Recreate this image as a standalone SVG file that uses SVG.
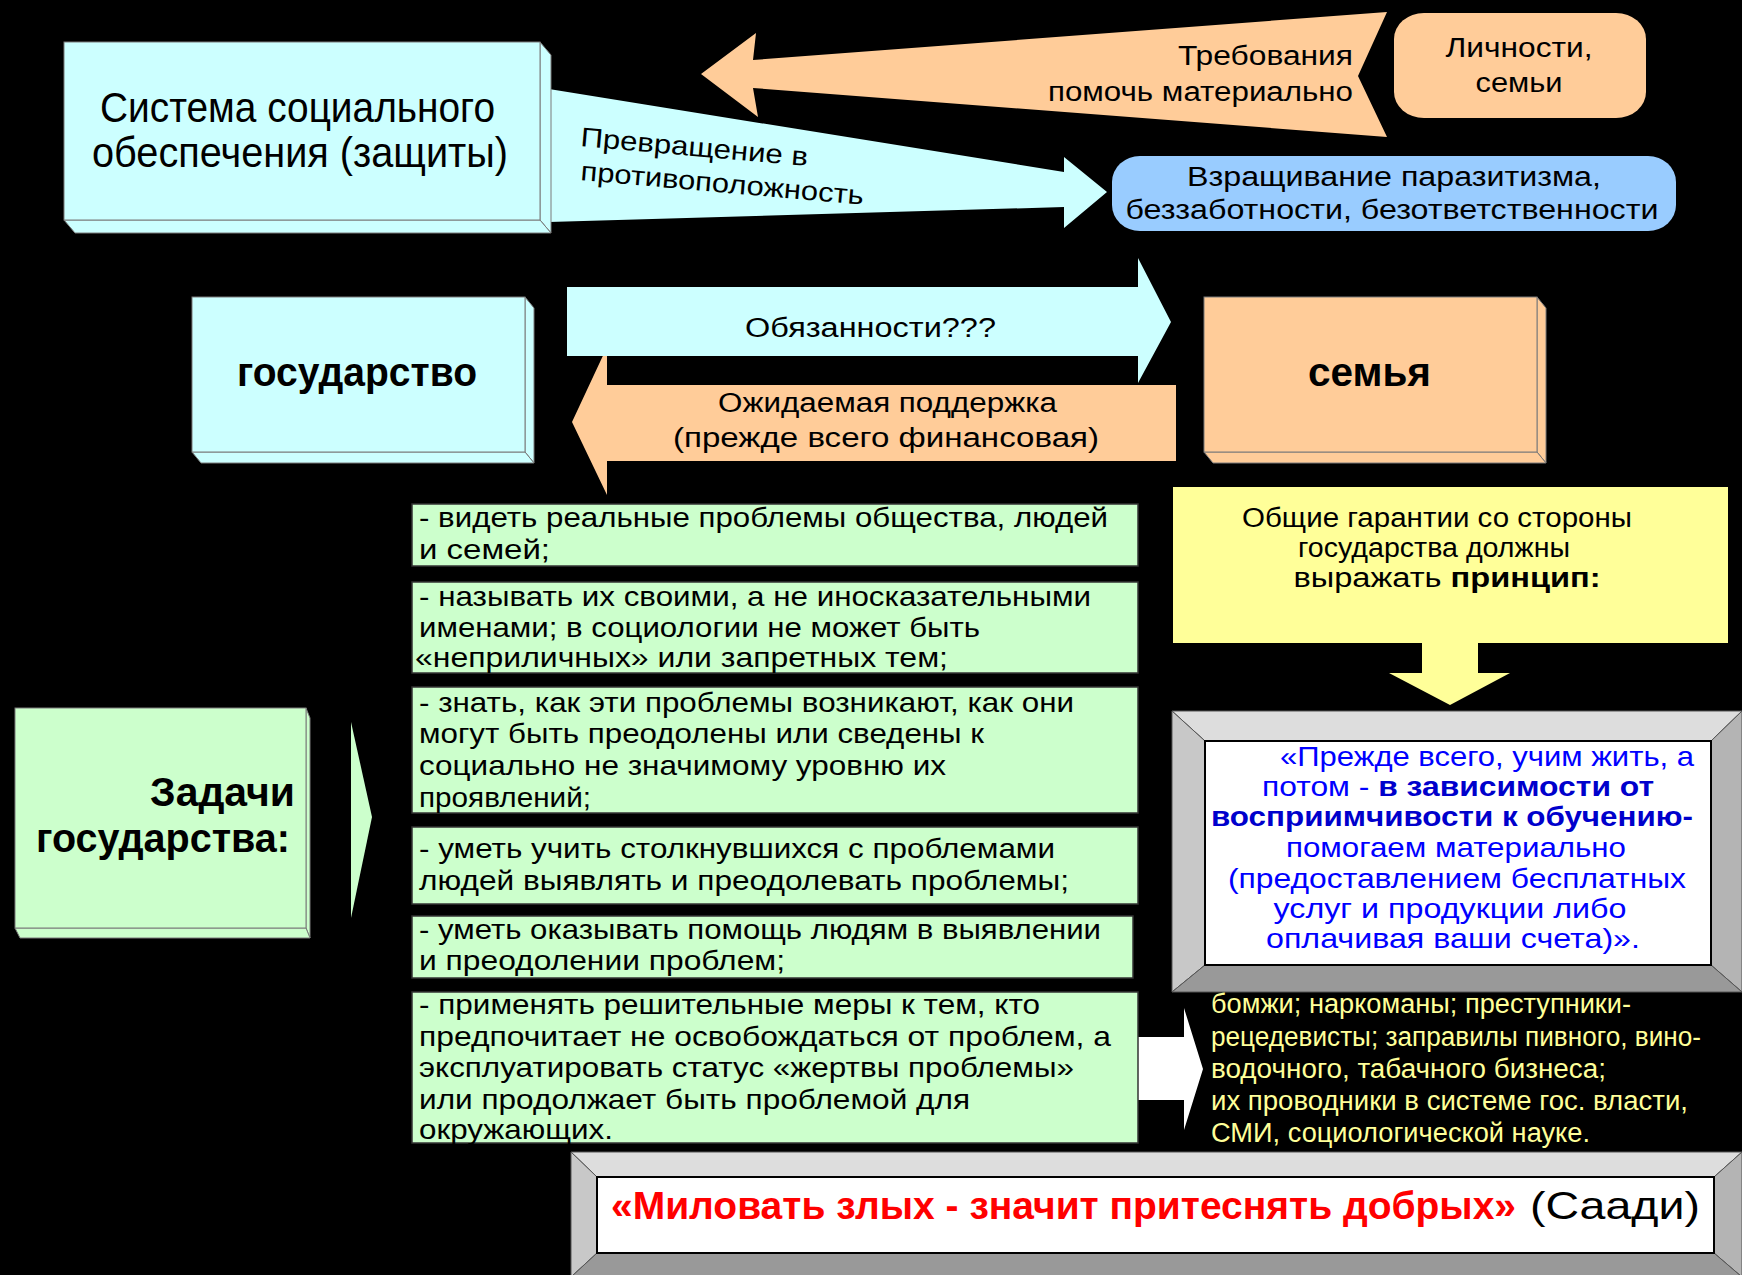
<svg xmlns="http://www.w3.org/2000/svg" width="1742" height="1275" viewBox="0 0 1742 1275">
<style>
text{font-family:"Liberation Sans",Arial,sans-serif;fill:#000}
.f{stroke:#7a7a7a;stroke-width:1}
.cy{fill:#CCFFFF}
.or{fill:#FFCC99}
.gr{fill:#CCFFCC}
.t26{font-size:27px}
.t25{font-size:27px}
.b38{font-size:40px;font-weight:bold}
.g{font-size:28px}
.y{font-size:27px;fill:#FFFF99}
.bl{font-size:28px;fill:#0000FF}
.blb{font-weight:bold;fill:#0000CC}
.c{text-anchor:middle}
.e{text-anchor:end}
</style>
<rect width="1742" height="1275" fill="#000"/>

<g id="connectors">
  <polygon class="or" points="701,74 756,33 753,60 1387,12 1358,76 1387,137 753,88 758,117"/>
  <polygon class="cy" points="549,89 1064,172 1064,157 1107,192 1064,228 1064,207 549,222"/>
  <polygon class="or" points="572,422 607,347 607,385 1176,385 1176,461 607,461 607,495"/>
  <polygon class="cy" points="567,287 1138,287 1138,258 1171,322 1138,383 1138,356 567,356"/>
  <polygon class="gr" points="351,722 372,817 351,918"/>
  <polygon fill="#FFFF99" points="1422,642 1478,642 1478,673 1510,673 1450,705 1389,673 1422,673"/>
  <polygon fill="#FFFFFF" points="1137,1037 1184,1037 1184,1008 1203,1069 1184,1130 1184,1100 1137,1100"/>
  <text class="t25" x="580" y="146" transform="rotate(5 580 146)" textLength="228" lengthAdjust="spacingAndGlyphs">Превращение в</text>
  <text class="t25" x="580" y="180" transform="rotate(5 580 180)" textLength="284" lengthAdjust="spacingAndGlyphs">противоположность</text>
  <text class="t26 e" x="1353" y="65" textLength="175" lengthAdjust="spacingAndGlyphs">Требования</text>
  <text class="t26 e" x="1353" y="101" textLength="305" lengthAdjust="spacingAndGlyphs">помочь материально</text>
  <text class="t26" x="745" y="337" textLength="251" lengthAdjust="spacingAndGlyphs">Обязанности???</text>
  <text class="t26" x="718" y="412" textLength="339" lengthAdjust="spacingAndGlyphs">Ожидаемая поддержка</text>
  <text class="t26" x="673" y="447" textLength="426" lengthAdjust="spacingAndGlyphs">(прежде всего финансовая)</text>
</g>

<g id="sistema">
  <polygon class="cy f" points="540,42 551,55 551,233 540,220"/>
  <polygon class="cy f" points="64,220 540,220 551,233 75,233"/>
  <rect class="cy f" x="64" y="42" width="476" height="178"/>
  <text x="100" y="122" font-size="42" textLength="395" lengthAdjust="spacingAndGlyphs">Система социального</text>
  <text x="92" y="167" font-size="42" textLength="416" lengthAdjust="spacingAndGlyphs">обеспечения (защиты)</text>
</g>

<g id="lichnosti">
  <rect class="or" x="1394" y="13" width="252" height="105" rx="30" ry="26"/>
  <text class="t26 c" x="1519" y="57" textLength="147" lengthAdjust="spacingAndGlyphs">Личности,</text>
  <text class="t26 c" x="1519" y="92" textLength="87" lengthAdjust="spacingAndGlyphs">семьи</text>
</g>

<g id="vzrashchivanie">
  <rect fill="#99CCFF" x="1112" y="156" width="564" height="75" rx="28" ry="26"/>
  <text class="t26 c" x="1394" y="186" textLength="414" lengthAdjust="spacingAndGlyphs">Взращивание паразитизма,</text>
  <text class="t26 c" x="1392" y="219" textLength="533" lengthAdjust="spacingAndGlyphs">беззаботности, безответственности</text>
</g>

<g id="gosudarstvo">
  <polygon class="cy f" points="525,297 534,308 534,463 525,452"/>
  <polygon class="cy f" points="192,452 525,452 534,463 201,463"/>
  <rect class="cy f" x="192" y="297" width="333" height="155"/>
  <text class="b38" x="237" y="386" textLength="240" lengthAdjust="spacingAndGlyphs">государство</text>
</g>

<g id="semya">
  <polygon class="or f" points="1537,297 1546,308 1546,463 1537,452"/>
  <polygon class="or f" points="1204,452 1537,452 1546,463 1213,463"/>
  <rect class="or f" x="1204" y="297" width="333" height="155"/>
  <text class="b38" x="1308" y="386" textLength="123" lengthAdjust="spacingAndGlyphs">семья</text>
</g>

<g id="zadachi">
  <polygon class="gr f" points="306,708 310,718 310,938 306,928"/>
  <polygon class="gr f" points="15,928 306,928 310,938 20,938"/>
  <rect class="gr f" x="15" y="708" width="291" height="220"/>
  <text class="b38 e" x="295" y="806" textLength="145" lengthAdjust="spacingAndGlyphs">Задачи</text>
  <text class="b38 e" x="290" y="852" textLength="254" lengthAdjust="spacingAndGlyphs">государства:</text>
</g>

<g id="task1">
  <rect class="gr" x="412" y="504" width="726" height="62" stroke="#333" stroke-width="1.5"/>
  <text class="g" x="419" y="527" textLength="689" lengthAdjust="spacingAndGlyphs">- видеть реальные проблемы общества, людей</text>
  <text class="g" x="419" y="559" textLength="131" lengthAdjust="spacingAndGlyphs">и семей;</text>
</g>
<g id="task2">
  <rect class="gr" x="412" y="582" width="726" height="91" stroke="#333" stroke-width="1.5"/>
  <text class="g" x="419" y="606" textLength="672" lengthAdjust="spacingAndGlyphs">- называть их своими, а не иносказательными</text>
  <text class="g" x="419" y="637" textLength="561" lengthAdjust="spacingAndGlyphs">именами; в социологии не может быть</text>
  <text class="g" x="415" y="667" textLength="533" lengthAdjust="spacingAndGlyphs">«неприличных» или запретных тем;</text>
</g>
<g id="task3">
  <rect class="gr" x="412" y="687" width="726" height="126" stroke="#333" stroke-width="1.5"/>
  <text class="g" x="419" y="712" textLength="655" lengthAdjust="spacingAndGlyphs">- знать, как эти проблемы возникают, как они</text>
  <text class="g" x="419" y="743" textLength="565" lengthAdjust="spacingAndGlyphs">могут быть преодолены или сведены к</text>
  <text class="g" x="419" y="775" textLength="527" lengthAdjust="spacingAndGlyphs">социально не значимому уровню их</text>
  <text class="g" x="419" y="807" textLength="172" lengthAdjust="spacingAndGlyphs">проявлений;</text>
</g>
<g id="task4">
  <rect class="gr" x="412" y="827" width="726" height="77" stroke="#333" stroke-width="1.5"/>
  <text class="g" x="419" y="858" textLength="636" lengthAdjust="spacingAndGlyphs">- уметь учить столкнувшихся с проблемами</text>
  <text class="g" x="419" y="890" textLength="650" lengthAdjust="spacingAndGlyphs">людей выявлять и преодолевать проблемы;</text>
</g>
<g id="task5">
  <rect class="gr" x="412" y="916" width="721" height="62" stroke="#333" stroke-width="1.5"/>
  <text class="g" x="419" y="939" textLength="682" lengthAdjust="spacingAndGlyphs">- уметь оказывать помощь людям в выявлении</text>
  <text class="g" x="419" y="970" textLength="366" lengthAdjust="spacingAndGlyphs">и преодолении проблем;</text>
</g>
<g id="task6">
  <rect class="gr" x="412" y="992" width="726" height="151" stroke="#333" stroke-width="1.5"/>
  <text class="g" x="419" y="1014" textLength="621" lengthAdjust="spacingAndGlyphs">- применять решительные меры к тем, кто</text>
  <text class="g" x="419" y="1046" textLength="692" lengthAdjust="spacingAndGlyphs">предпочитает не освобождаться от проблем, а</text>
  <text class="g" x="419" y="1077" textLength="655" lengthAdjust="spacingAndGlyphs">эксплуатировать статус «жертвы проблемы»</text>
  <text class="g" x="419" y="1109" textLength="551" lengthAdjust="spacingAndGlyphs">или продолжает быть проблемой для</text>
  <text class="g" x="419" y="1139" textLength="194" lengthAdjust="spacingAndGlyphs">окружающих.</text>
</g>

<g id="garantii">
  <rect fill="#FFFF99" x="1173" y="487" width="555" height="156"/>
  <text class="t26 c" x="1437" y="527" textLength="390" lengthAdjust="spacingAndGlyphs">Общие гарантии со стороны</text>
  <text class="t26 c" x="1434" y="557" textLength="272" lengthAdjust="spacingAndGlyphs">государства должны</text>
  <text class="t26 c" x="1447" y="587" textLength="307" lengthAdjust="spacingAndGlyphs">выражать <tspan font-weight="bold">принцип:</tspan></text>
</g>

<g id="princip">
  <polygon fill="#DDDDDD" stroke="#555" stroke-width="1" points="1172,711 1742,711 1711,741 1205,741"/>
  <polygon fill="#C8C8C8" stroke="#555" stroke-width="1" points="1172,711 1205,741 1205,965 1172,992"/>
  <polygon fill="#B4B4B4" stroke="#555" stroke-width="1" points="1742,711 1742,992 1711,965 1711,741"/>
  <polygon fill="#999999" stroke="#555" stroke-width="1" points="1172,992 1205,965 1711,965 1742,992"/>
  <rect fill="#FFFFFF" stroke="#000" stroke-width="2" x="1205" y="741" width="506" height="224"/>
  <text class="bl c" x="1487" y="766" textLength="414" lengthAdjust="spacingAndGlyphs">«Прежде всего, учим жить, а</text>
  <text class="bl c" x="1458" y="796" textLength="392" lengthAdjust="spacingAndGlyphs">потом - <tspan class="blb">в зависимости от</tspan></text>
  <text class="bl blb c" x="1452" y="826" textLength="482" lengthAdjust="spacingAndGlyphs">восприимчивости к обучению-</text>
  <text class="bl c" x="1456" y="857" textLength="340" lengthAdjust="spacingAndGlyphs">помогаем материально</text>
  <text class="bl c" x="1457" y="888" textLength="458" lengthAdjust="spacingAndGlyphs">(предоставлением бесплатных</text>
  <text class="bl c" x="1450" y="918" textLength="353" lengthAdjust="spacingAndGlyphs">услуг и продукции либо</text>
  <text class="bl c" x="1453" y="948" textLength="374" lengthAdjust="spacingAndGlyphs">оплачивая ваши счета)».</text>
</g>

<g id="zlye">
  <text class="y" x="1211" y="1013" textLength="420" lengthAdjust="spacingAndGlyphs">бомжи; наркоманы; преступники-</text>
  <text class="y" x="1211" y="1046" textLength="490" lengthAdjust="spacingAndGlyphs">рецедевисты; заправилы пивного, вино-</text>
  <text class="y" x="1211" y="1078" textLength="395" lengthAdjust="spacingAndGlyphs">водочного, табачного бизнеса;</text>
  <text class="y" x="1211" y="1110" textLength="477" lengthAdjust="spacingAndGlyphs">их проводники в системе гос. власти,</text>
  <text class="y" x="1211" y="1142" textLength="379" lengthAdjust="spacingAndGlyphs">СМИ, социологической науке.</text>
</g>

<g id="saadi">
  <polygon fill="#DDDDDD" stroke="#555" stroke-width="1" points="571,1152 1742,1152 1714,1177 597,1177"/>
  <polygon fill="#C8C8C8" stroke="#555" stroke-width="1" points="571,1152 597,1177 597,1253 571,1277"/>
  <polygon fill="#B4B4B4" stroke="#555" stroke-width="1" points="1742,1152 1742,1277 1714,1253 1714,1177"/>
  <polygon fill="#999999" stroke="#555" stroke-width="1" points="571,1277 597,1253 1714,1253 1742,1277"/>
  <rect fill="#FFFFFF" stroke="#000" stroke-width="2" x="597" y="1177" width="1117" height="76"/>
  <text x="611" y="1219" font-size="39" font-weight="bold" style="fill:#FF0000" textLength="905" lengthAdjust="spacingAndGlyphs">«Миловать злых - значит притеснять добрых»</text>
  <text x="1530" y="1219" font-size="39" textLength="170" lengthAdjust="spacingAndGlyphs">(Саади)</text>
</g>
</svg>
